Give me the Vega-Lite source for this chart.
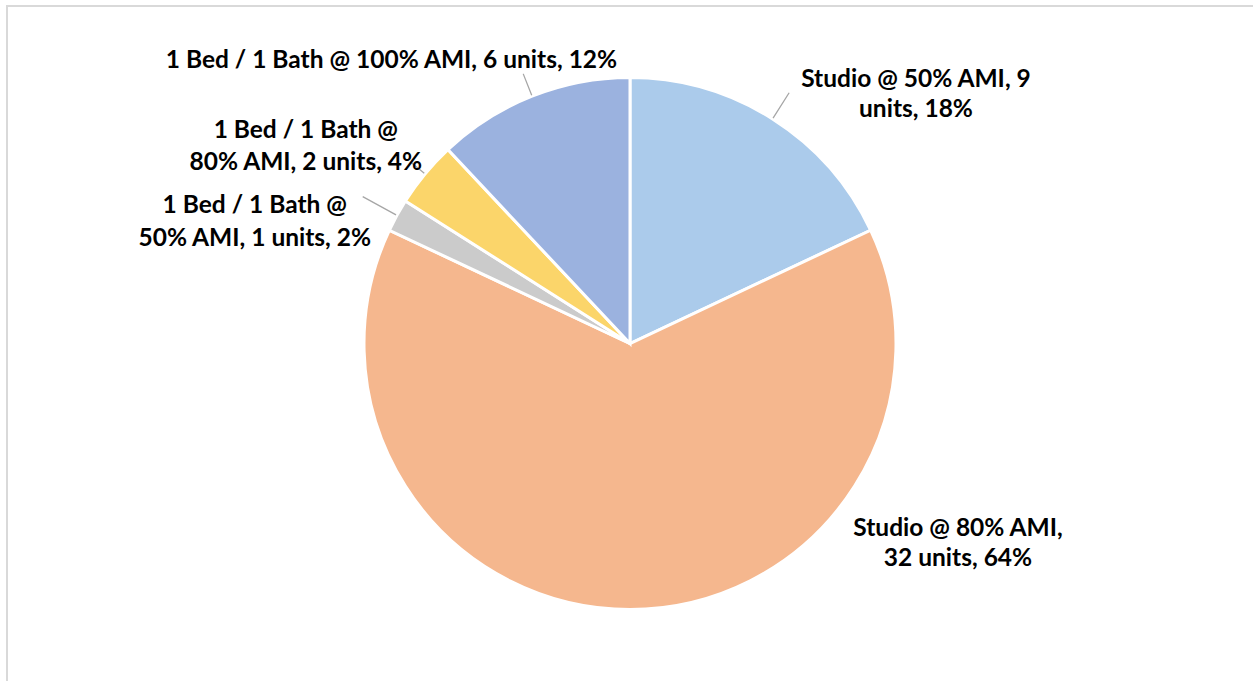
{
  "$schema": "https://vega.github.io/schema/vega-lite/v6.json",
  "width": 1246,
  "height": 675,
  "autosize": "none",
  "padding": {"left": 7, "top": 6, "right": 0, "bottom": 0},
  "background": "white",
  "view": {"stroke": "#d9d9d9", "strokeWidth": 2, "strokeDash": [1246, 1921, 675]},
  "config": {
    "text": {"font": "Lato", "fontWeight": "bold", "fontSize": 24.5, "color": "#000000", "lineBreak": "\n"}
  },
  "data": {
    "values": [
      {"slice": 1, "cat": "Studio @ 50% AMI", "units": 9, "label": "Studio @ 50% AMI, 9\nunits, 18%"},
      {"slice": 2, "cat": "Studio @ 80% AMI", "units": 32, "label": "Studio @ 80% AMI,\n32 units, 64%"},
      {"slice": 3, "cat": "1 Bed / 1 Bath @ 50% AMI", "units": 1, "label": "1 Bed / 1 Bath @\n50% AMI, 1 units, 2%"},
      {"slice": 4, "cat": "1 Bed / 1 Bath @ 80% AMI", "units": 2, "label": "1 Bed / 1 Bath @\n80% AMI, 2 units, 4%"},
      {"slice": 5, "cat": "1 Bed / 1 Bath @ 100% AMI", "units": 6, "label": "1 Bed / 1 Bath @ 100% AMI, 6 units, 12%"}
    ]
  },
  "encoding": {
    "theta": {"field": "units", "type": "quantitative", "stack": true},
    "order": {"field": "slice", "type": "quantitative"},
    "detail": {"field": "cat", "type": "nominal"}
  },
  "layer": [
    {
      "mark": {"type": "arc", "stroke": "#ffffff", "strokeWidth": 3},
      "encoding": {
        "radius": {"value": 266},
        "color": {
          "field": "cat",
          "type": "nominal",
          "legend": null,
          "scale": {
            "domain": ["Studio @ 50% AMI", "Studio @ 80% AMI", "1 Bed / 1 Bath @ 50% AMI", "1 Bed / 1 Bath @ 80% AMI", "1 Bed / 1 Bath @ 100% AMI"],
            "range": ["#abcbeb", "#f5b78e", "#cbcbcb", "#fbd56a", "#9bb2df"]
          }
        }
      }
    },
    {
      "mark": {"type": "arc", "padAngle": 1.0, "stroke": "#a6a6a6", "strokeWidth": 1.3, "fillOpacity": 0},
      "encoding": {
        "radius": {"value": 297},
        "radius2": {"value": 267},
        "strokeOpacity": {"condition": {"test": "datum.cat === 'Studio @ 50% AMI'", "value": 1}, "value": 0}
      }
    },
    {
      "mark": {"type": "arc", "padAngle": 1.0, "stroke": "#a6a6a6", "strokeWidth": 1.3, "fillOpacity": 0},
      "encoding": {
        "radius": {"value": 305},
        "radius2": {"value": 267},
        "strokeOpacity": {"condition": {"test": "datum.cat === '1 Bed / 1 Bath @ 50% AMI'", "value": 1}, "value": 0}
      }
    },
    {
      "mark": {"type": "arc", "padAngle": 1.0, "stroke": "#a6a6a6", "strokeWidth": 1.3, "fillOpacity": 0},
      "encoding": {
        "radius": {"value": 284},
        "radius2": {"value": 267},
        "strokeOpacity": {"condition": {"test": "datum.cat === '1 Bed / 1 Bath @ 80% AMI'", "value": 1}, "value": 0}
      }
    },
    {
      "mark": {"type": "arc", "padAngle": 1.0, "stroke": "#a6a6a6", "strokeWidth": 1.3, "fillOpacity": 0},
      "encoding": {
        "radius": {"value": 290},
        "radius2": {"value": 267},
        "strokeOpacity": {"condition": {"test": "datum.cat === '1 Bed / 1 Bath @ 100% AMI'", "value": 1}, "value": 0}
      }
    },
    {
      "mark": {"type": "text", "align": "center", "baseline": "middle", "lineHeight": 30, "dx": 144, "dy": -40},
      "encoding": {
        "radius": {"value": 265},
        "text": {"condition": {"test": "datum.cat === 'Studio @ 50% AMI'", "field": "label"}, "value": ""}
      }
    },
    {
      "mark": {"type": "text", "align": "center", "baseline": "middle", "lineHeight": 30, "dx": 328, "dy": -80},
      "encoding": {
        "radius": {"value": 265},
        "text": {"condition": {"test": "datum.cat === 'Studio @ 80% AMI'", "field": "label"}, "value": ""}
      }
    },
    {
      "mark": {"type": "text", "align": "center", "baseline": "middle", "lineHeight": 33, "dx": -143, "dy": -10},
      "encoding": {
        "radius": {"value": 265},
        "text": {"condition": {"test": "datum.cat === '1 Bed / 1 Bath @ 50% AMI'", "field": "label"}, "value": ""}
      }
    },
    {
      "mark": {"type": "text", "align": "center", "baseline": "middle", "lineHeight": 32, "dx": -120, "dy": -44},
      "encoding": {
        "radius": {"value": 265},
        "text": {"condition": {"test": "datum.cat === '1 Bed / 1 Bath @ 80% AMI'", "field": "label"}, "value": ""}
      }
    },
    {
      "mark": {"type": "text", "align": "center", "baseline": "middle", "dx": -141, "dy": -36},
      "encoding": {
        "radius": {"value": 265},
        "text": {"condition": {"test": "datum.cat === '1 Bed / 1 Bath @ 100% AMI'", "field": "label"}, "value": ""}
      }
    }
  ]
}
